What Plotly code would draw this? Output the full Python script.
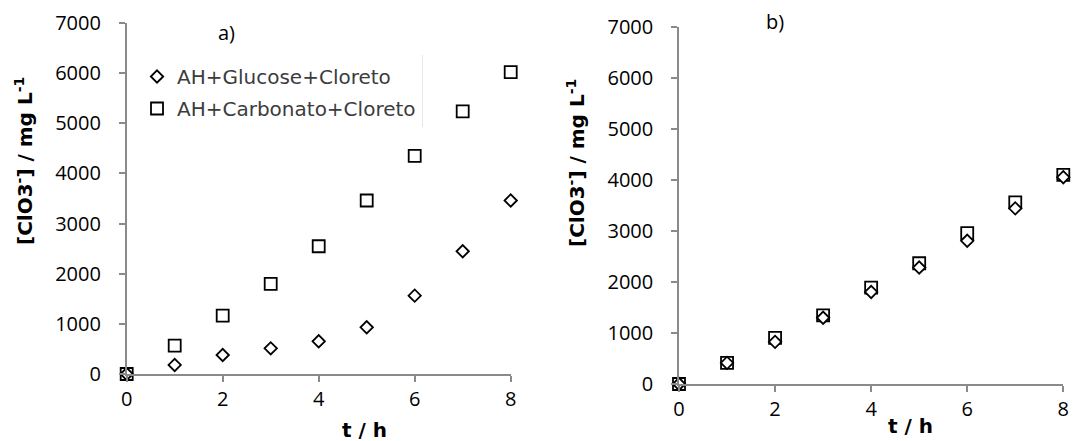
import plotly.graph_objects as go

# ---- data ----
t_hours = [0, 1, 2, 3, 4, 5, 6, 7, 8]
a_glucose = [0, 180, 379, 512, 652, 931, 1563, 2448, 3460]
a_carbonato = [0, 566, 1164, 1796, 2548, 3460, 4351, 5236, 6021]
b_glucose = [0, 414, 827, 1300, 1806, 2285, 2810, 3447, 4058]
b_carbonato = [0, 414, 906, 1346, 1891, 2370, 2961, 3565, 4104]

series_names = ["AH+Glucose+Cloreto", "AH+Carbonato+Cloreto"]
x_ticks = [0, 2, 4, 6, 8]
y_ticks = [0, 1000, 2000, 3000, 4000, 5000, 6000, 7000]
panel_labels = ["a)", "b)"]
x_title = "t / h"
y_title = "[ClO3<sup>-</sup>] / mg L<sup>-1</sup>"

W, H = 1073, 441
AX_COLOR = "#8a8a8a"
TICK_FONT = dict(family="Open Sans", size=20, color="black")
TITLE_FONT = dict(family="DejaVu Sans", size=20, color="black")

sq_marker = dict(symbol="square", size=12, color="white",
                 line=dict(color="black", width=1.8))
di_marker = dict(symbol="diamond", size=9.5, color="white",
                 line=dict(color="black", width=1.8))

fig = go.Figure()
# panel a
fig.add_trace(go.Scatter(x=t_hours, y=a_carbonato, mode="markers", name=series_names[1],
                         marker=sq_marker, xaxis="x", yaxis="y", cliponaxis=False,
                         legendgroup="g2", legendrank=2))
fig.add_trace(go.Scatter(x=t_hours, y=a_glucose, mode="markers", name=series_names[0],
                         marker=di_marker, xaxis="x", yaxis="y", cliponaxis=False,
                         legendgroup="g1", legendrank=1))
# panel b
fig.add_trace(go.Scatter(x=t_hours, y=b_carbonato, mode="markers", name=series_names[1],
                         marker=sq_marker, xaxis="x2", yaxis="y2", cliponaxis=False,
                         showlegend=False))
fig.add_trace(go.Scatter(x=t_hours, y=b_glucose, mode="markers", name=series_names[0],
                         marker=di_marker, xaxis="x2", yaxis="y2", cliponaxis=False,
                         showlegend=False))

def px(x):
    return x / W

def py(y):
    return 1 - y / H

common_x = dict(range=[0, 8], tickvals=x_ticks, showline=True, linecolor=AX_COLOR,
                linewidth=1.5, ticks="outside", ticklen=6, tickcolor=AX_COLOR, tickwidth=1.5,
                showgrid=False, zeroline=False, tickfont=TICK_FONT, ticklabelstandoff=0,
                automargin=False)
common_y = dict(range=[0, 7000], tickvals=y_ticks, showline=True, linecolor=AX_COLOR,
                linewidth=1.5, ticks="outside", ticklen=6, tickcolor=AX_COLOR, tickwidth=1.5,
                showgrid=False, zeroline=False, tickfont=TICK_FONT, ticklabelstandoff=14,
                automargin=False)

fig.update_layout(
    width=W, height=H, autosize=False,
    margin=dict(l=0, r=0, t=0, b=0, pad=0, autoexpand=False),
    paper_bgcolor="white", plot_bgcolor="white",
    xaxis=dict(domain=[px(126.7), px(510.7)], anchor="y", **common_x),
    yaxis=dict(domain=[py(374), py(23)], anchor="x", **common_y),
    xaxis2=dict(domain=[px(679), px(1063.3)], anchor="y2", **common_x),
    yaxis2=dict(domain=[py(384), py(27.3)], anchor="x2", **common_y),
    legend=dict(x=px(137), y=py(57), xanchor="left", yanchor="top",
                font=dict(family="DejaVu Sans", size=20, color="#3c3c3c"),
                bgcolor="rgba(0,0,0,0)", traceorder="grouped", tracegroupgap=3,
                itemwidth=30),
    showlegend=True,
)

def ann(text, x, y, font, angle=0):
    return dict(text=text, x=px(x), y=py(y), xref="paper", yref="paper",
                xanchor="center", yanchor="middle", showarrow=False,
                textangle=angle, font=font)

label_font = dict(family="Open Sans", size=20, color="black")
annotations = [
    ann(panel_labels[0], 226, 33, label_font),
    ann(panel_labels[1], 775, 22, label_font),
    ann("<b>" + x_title + "</b>", 364, 430, TITLE_FONT),
    ann("<b>" + x_title + "</b>", 910, 426, TITLE_FONT),
    ann("<b>" + y_title + "</b>", 24, 161, TITLE_FONT, -90),
    ann("<b>" + y_title + "</b>", 576, 163, TITLE_FONT, -90),
]
fig.update_layout(annotations=annotations)

fig.add_shape(type="line", xref="paper", yref="paper",
              x0=px(422.5), x1=px(422.5), y0=py(55), y1=py(127),
              line=dict(color="#e6e6e6", width=1))

fig.write_html("out.html")
